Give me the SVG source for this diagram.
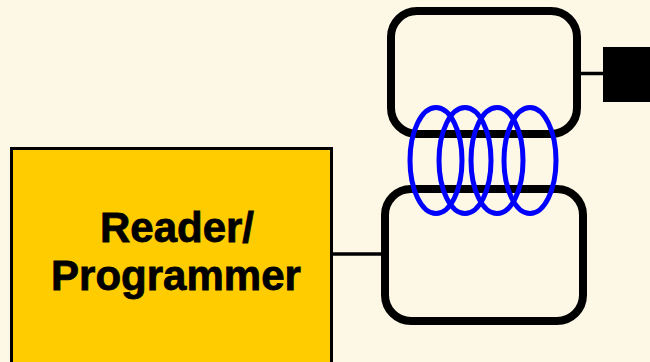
<svg xmlns="http://www.w3.org/2000/svg" width="650" height="362" viewBox="0 0 650 362">
  <style>
    .coilbox { fill: none; stroke: #000; stroke-width: 8; }
    .wire { stroke: #000; stroke-width: 3.5; fill: none; }
    .loop { fill: none; stroke: #0000ff; stroke-width: 5; }
    .label { font-family: "Liberation Sans", Arial, sans-serif; font-weight: bold; font-size: 42px; fill: #000; stroke: #000; stroke-width: 0.8; text-anchor: middle; }
  </style>
  <rect x="0" y="0" width="650" height="362" fill="#fdf7e6"/>

  <g id="connectors">
    <line class="wire" x1="331" y1="254" x2="383" y2="254"/>
    <line class="wire" x1="580" y1="73.5" x2="605" y2="73.5"/>
  </g>

  <g id="reader">
    <rect x="11.5" y="148.5" width="320" height="220" fill="#ffcc00" stroke="#000" stroke-width="3"/>
    <text class="label" x="177" y="242">Reader/</text>
    <text class="label" x="176" y="290">Programmer</text>
  </g>

  <g id="tag-upper">
    <rect class="coilbox" x="391" y="11" width="186" height="123" rx="26" ry="26"/>
  </g>

  <g id="tag-lower">
    <rect class="coilbox" x="385" y="189" width="198" height="132" rx="26" ry="26"/>
  </g>

  <g id="chip">
    <rect x="603" y="47" width="50" height="55" fill="#000"/>
  </g>

  <g id="coil">
    <ellipse class="loop" cx="436" cy="160.5" rx="26" ry="53"/>
    <ellipse class="loop" cx="465" cy="160.5" rx="26" ry="53"/>
    <ellipse class="loop" cx="497" cy="160.5" rx="26" ry="53"/>
    <ellipse class="loop" cx="530" cy="160.5" rx="26" ry="53"/>
  </g>
</svg>
